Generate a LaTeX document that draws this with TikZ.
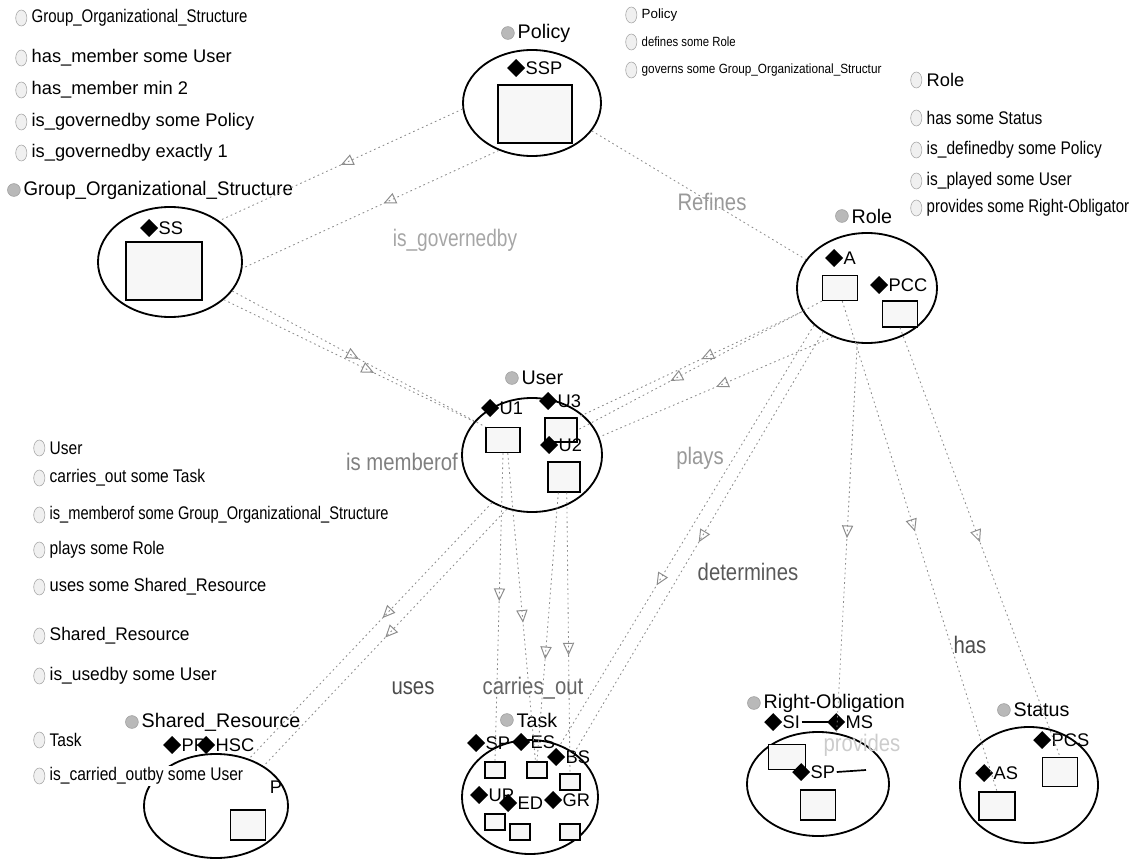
\documentclass[tikz,border=0pt]{standalone}
\usepackage{fontspec}
\setmainfont{Liberation Sans}
\usepackage{tikz}
\usetikzlibrary{shapes,arrows,positioning,calc,arrows.meta,decorations.markings}

\newcommand{\narrowtxt}[2][0.85]{\scalebox{#1}[1]{#2}}

\begin{document}
\begin{tikzpicture}[
        x=0.025cm, y=-0.025cm,
        every node/.style={font=\fontsize{13}{15}\selectfont},
        cls/.style={ellipse, draw=black, line width=1.3pt, inner sep=0pt},
        box/.style={rectangle, draw=black, line width=0.9pt, fill=gray!6, inner sep=0pt},
        diam/.style={diamond, fill=black, inner sep=0pt, minimum size=0.45cm},
        indiv/.style={font=\fontsize{13}{14}\selectfont, inner sep=1pt, anchor=west, label={[diam, label distance=-1pt]left:{}}},
        cicon/.style={circle, fill=gray!55, draw=gray!75, inner sep=0pt, minimum size=0.32cm},
        ctitle/.style={font=\fontsize{14}{16}\selectfont, inner sep=1pt, anchor=west, label={[cicon, label distance=1pt]left:{}}},
        dicon/.style={ellipse, draw=gray!70, fill=gray!12, inner sep=0pt, minimum width=0.28cm, minimum height=0.4cm},
        desc/.style={inner sep=1pt, anchor=west, label={[dicon, label distance=2pt]left:{}}},
        sdesc/.style={desc, font=\fontsize{9.5}{11}\selectfont},
        elabel/.style={font=\fontsize{17}{18}\selectfont, text=black!50},
        link/.style={draw=black!45, line width=0.6pt, dash pattern=on 1.2pt off 2.2pt},
        rel/.style={link, postaction={decorate}, decoration={markings, mark=at position #1 with {\arrow{Triangle[open, length=9pt, width=8pt, line width=0.7pt]}}}},
        rel/.default=0.5,
    ]
    \useasboundingbox (0,0) rectangle (1140,862);

    % description blocks
    \node[desc] (dgrp) at (30,18) {\narrowtxt[0.82]{Group\_Organizational\_Structure}};
    \node[desc] (dgrp1) at (30,58) {has\_member some User};
    \node[desc] (dgrp2) at (30,90) {has\_member min 2};
    \node[desc] (dgrp3) at (30,122) {is\_governedby some Policy};
    \node[desc] (dgrp4) at (30,153) {is\_governedby exactly 1};

    \node[sdesc] (dpol) at (640,15) {Policy};
    \node[sdesc] (dpol1) at (640,42) {\narrowtxt{defines some Role}};
    \node[sdesc] (dpol2) at (640,70) {\narrowtxt[0.88]{governs some Group\_Organizational\_Structur}};

    \node[desc] (drole) at (925,80) {Role};
    \node[desc] (drole1) at (925,118) {\narrowtxt{has some Status}};
    \node[desc] (drole2) at (925,150) {\narrowtxt{is\_definedby some Policy}};
    \node[desc] (drole3) at (925,181) {\narrowtxt{is\_played some User}};
    \node[desc] (drole4) at (925,208) {\narrowtxt[0.82]{provides some Right-Obligator}};

    \node[desc] (duser) at (48,448) {\narrowtxt{User}};
    \node[desc] (duser1) at (48,478) {\narrowtxt{carries\_out some Task}};
    \node[desc] (duser2) at (48,515) {\narrowtxt[0.8]{is\_memberof some Group\_Organizational\_Structure}};
    \node[desc] (duser3) at (48,550) {\narrowtxt{plays some Role}};
    \node[desc] (duser4) at (48,587) {\narrowtxt[0.9]{uses some Shared\_Resource}};
    \node[desc] (dshr) at (48,636) {\narrowtxt[0.95]{Shared\_Resource}};
    \node[desc] (dshr1) at (48,676) {\narrowtxt[0.95]{is\_usedby some User}};

    % classes
    \node[cls, minimum width=3.45cm, minimum height=2.65cm] (policy) at (532,103) {};
    \node[ctitle] (policyT) at (516,33) {Policy};
    \node[box, minimum width=1.85cm, minimum height=1.45cm] (ssp) at (535,114) {};
    \node[indiv] (sspL) at (524,68) {SSP};

    \node[cls, minimum width=3.6cm, minimum height=2.75cm] (group) at (170,262) {};
    \node[ctitle] (groupT) at (22,190) {\narrowtxt[0.95]{Group\_Organizational\_Structure}};
    \node[box, minimum width=1.9cm, minimum height=1.45cm] (ss) at (164,271) {};
    \node[indiv] (ssL) at (157,228) {SS};

    \node[cls, minimum width=3.5cm, minimum height=2.75cm] (role) at (867,288) {};
    \node[ctitle] (roleT) at (850,216) {Role};
    \node[box, minimum width=0.875cm, minimum height=0.625cm] (a) at (840,288) {};
    \node[indiv] (aL) at (842,258) {A};
    \node[box, minimum width=0.875cm, minimum height=0.65cm] (pcc) at (900,314) {};
    \node[indiv] (pccL) at (887,285) {PCC};

    \node[cls, minimum width=3.5cm, minimum height=2.85cm] (user) at (532,455) {};
    \node[ctitle] (userT) at (520,378) {User};
    \node[box, minimum width=0.85cm, minimum height=0.625cm] (u1) at (503,440) {};
    \node[indiv] (u1L) at (498,408) {U1};
    \node[box, minimum width=0.8cm, minimum height=0.6cm] (u3) at (561,430) {};
    \node[indiv] (u3L) at (556,401) {U3};
    \node[box, minimum width=0.8cm, minimum height=0.75cm] (u2) at (564,477) {};
    \node[indiv] (u2L) at (557,445) {U2};

    \node[cls, minimum width=3.6cm, minimum height=2.6cm] (shres) at (216,806) {};
    \node[ctitle] (shresT) at (140,722) {Shared\_Resource};
    \node[indiv] (prL) at (180,745) {PR};
    \node[indiv] (hscL) at (214,745) {HSC};
    \node (pL) at (276,787) {P};
    \node[box, minimum width=0.875cm, minimum height=0.75cm] (p) at (248,825) {};
    \node[desc] (dtask) at (48,740) {\narrowtxt{Task}};
    \node[desc, fill=white] (dtask1) at (48,776) {\narrowtxt[0.85]{is\_carried\_outby some User}};

    \node[cls, minimum width=3.4cm, minimum height=2.85cm] (task) at (530,797) {};
    \node[ctitle] (taskT) at (515,720) {Task};
    \node[box, minimum width=0.5cm, minimum height=0.4cm] (tsp) at (495,770) {};
    \node[box, minimum width=0.5cm, minimum height=0.4cm] (tes) at (537,770) {};
    \node[box, minimum width=0.5cm, minimum height=0.4cm] (tbs) at (570,782) {};
    \node[box, minimum width=0.5cm, minimum height=0.4cm] (tup) at (495,822) {};
    \node[box, minimum width=0.5cm, minimum height=0.4cm] (ted) at (520,832) {};
    \node[box, minimum width=0.5cm, minimum height=0.4cm] (tgr) at (570,832) {};
    \node[indiv] (spL) at (484,743) {SP};
    \node[indiv] (esL) at (529,742) {ES};
    \node[indiv] (bsL) at (564,757) {BS};
    \node[indiv] (upL) at (487,795) {UP};
    \node[indiv] (edL) at (516,803) {ED};
    \node[indiv] (grL) at (561,800) {GR};

    \node[cls, minimum width=3.55cm, minimum height=2.6cm] (rob) at (818,784) {};
    \node[ctitle] (robT) at (762,703) {Right-Obligation};
    \node[box, minimum width=0.925cm, minimum height=0.625cm] (si) at (787,757) {};
    \node[box, minimum width=0.875cm, minimum height=0.75cm] (rsp) at (818,805) {};
    \node[indiv] (siL) at (781,722) {SI};
    \node[indiv] (msL) at (844,722) {MS};
    \node[indiv] (rspL) at (809,772) {SP};
    \coordinate (rspEnd) at (866,770);
    \draw[line width=1.2pt] (siL.east) -- (msL.west);
    \draw[line width=1.2pt] (rspL.east) -- (rspEnd);

    \node[cls, minimum width=3.45cm, minimum height=2.9cm] (status) at (1029,785) {};
    \node[ctitle] (statusT) at (1012,710) {Status};
    \node[box, minimum width=0.875cm, minimum height=0.725cm] (pcs) at (1060,772) {};
    \node[indiv] (pcsL) at (1050,740) {PCS};
    \node[box, minimum width=0.9cm, minimum height=0.7cm] (as) at (997,806) {};
    \node[indiv] (asL) at (992,773) {AS};

    % relations
    \draw[rel] (policy.185) -- (group.40);
    \draw[rel=0.45] (policy.235) -- (group.-5);
    \draw[rel] (group.-25) -- (u1.north west);
    \draw[rel=0.6] (group.-35) -- (user.150);
    \draw[link] (policy.-25) -- (role.155);
    \draw[rel=0.62] (a.south west) -- (u3.east);
    \draw[rel=0.45] (role.200) -- (u3.north east);
    \draw[rel] (role.235) -- (user.15);
    \draw[rel=0.48] (u1.south) -- (tsp.north);
    \draw[rel=0.55] (u1.-70) -- (tes.100);
    \draw[rel=0.62] (u2.-110) -- (tes.north);
    \draw[rel=0.58] (u2.-80) -- (tbs.north);
    \draw[rel=0.45] (user.230) -- (shres.55);
    \draw[rel] (user.245) -- (shres.40);
    \draw[rel] (role.225) -- (task.45);
    \draw[rel=0.62] (role.215) -- (task.60);
    \draw[rel=0.47] (a.-80) -- (as.north);
    \draw[rel] (pcc.south) -- (pcs.north);
    \draw[rel] (role.-100) -- (rob.70);

    % relation labels
    \node[elabel, text=black!35] (lgov) at (455,240) {\narrowtxt[0.8]{is\_governedby}};
    \node[elabel, text=black!40] (lref) at (712,202) {\narrowtxt{Refines}};
    \node[elabel] (lmem) at (402,462) {\narrowtxt{is memberof}};
    \node[elabel, text=black!40] (lplay) at (700,458) {\narrowtxt{plays}};
    \node[elabel, text=black!65] (ldet) at (748,572) {\narrowtxt{determines}};
    \node[elabel, text=black!70] (lhas) at (970,645) {\narrowtxt{has}};
    \node[elabel, text=black!70] (luse) at (413,688) {\narrowtxt{uses}};
    \node[elabel, text=black!60] (lcar) at (533,688) {\narrowtxt{carries\_out}};
    \node[elabel, text=black!20] (lprov) at (862,745) {\narrowtxt{provides}};

\end{tikzpicture}
\end{document}
